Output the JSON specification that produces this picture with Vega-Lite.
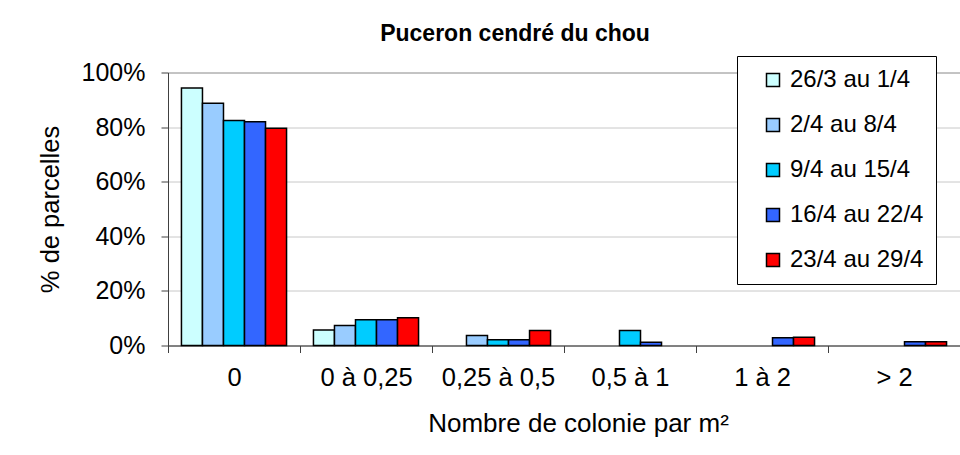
{
  "$schema": "https://vega.github.io/schema/vega-lite/v6.json",
  "autosize": {"type": "none"},
  "width": 792,
  "height": 273,
  "padding": {"left": 168, "top": 72.5, "right": 0, "bottom": 109.5},
  "background": "white",
  "title": {
    "text": "Puceron cendré du chou",
    "font": "Liberation Sans",
    "fontSize": 23,
    "fontWeight": "bold",
    "color": "black",
    "anchor": "middle",
    "baseline": "alphabetic",
    "dx": -49,
    "dy": 39,
    "offset": 31
  },
  "data": {
    "values": [
      {"cat": "0", "periode": "26/3 au 1/4", "pct": 94.3},
      {"cat": "0", "periode": "2/4 au 8/4", "pct": 88.7},
      {"cat": "0", "periode": "9/4 au 15/4", "pct": 82.4},
      {"cat": "0", "periode": "16/4 au 22/4", "pct": 82.0},
      {"cat": "0", "periode": "23/4 au 29/4", "pct": 79.6},
      {"cat": "0 à 0,25", "periode": "26/3 au 1/4", "pct": 5.7},
      {"cat": "0 à 0,25", "periode": "2/4 au 8/4", "pct": 7.3},
      {"cat": "0 à 0,25", "periode": "9/4 au 15/4", "pct": 9.4},
      {"cat": "0 à 0,25", "periode": "16/4 au 22/4", "pct": 9.4},
      {"cat": "0 à 0,25", "periode": "23/4 au 29/4", "pct": 10.2},
      {"cat": "0,25 à 0,5", "periode": "26/3 au 1/4", "pct": 0},
      {"cat": "0,25 à 0,5", "periode": "2/4 au 8/4", "pct": 3.7},
      {"cat": "0,25 à 0,5", "periode": "9/4 au 15/4", "pct": 2.1},
      {"cat": "0,25 à 0,5", "periode": "16/4 au 22/4", "pct": 2.1},
      {"cat": "0,25 à 0,5", "periode": "23/4 au 29/4", "pct": 5.5},
      {"cat": "0,5 à 1", "periode": "26/3 au 1/4", "pct": 0},
      {"cat": "0,5 à 1", "periode": "2/4 au 8/4", "pct": 0},
      {"cat": "0,5 à 1", "periode": "9/4 au 15/4", "pct": 5.5},
      {"cat": "0,5 à 1", "periode": "16/4 au 22/4", "pct": 1.2},
      {"cat": "0,5 à 1", "periode": "23/4 au 29/4", "pct": 0},
      {"cat": "1 à 2", "periode": "26/3 au 1/4", "pct": 0},
      {"cat": "1 à 2", "periode": "2/4 au 8/4", "pct": 0},
      {"cat": "1 à 2", "periode": "9/4 au 15/4", "pct": 0},
      {"cat": "1 à 2", "periode": "16/4 au 22/4", "pct": 2.8},
      {"cat": "1 à 2", "periode": "23/4 au 29/4", "pct": 3.0},
      {"cat": "> 2", "periode": "26/3 au 1/4", "pct": 0},
      {"cat": "> 2", "periode": "2/4 au 8/4", "pct": 0},
      {"cat": "> 2", "periode": "9/4 au 15/4", "pct": 0},
      {"cat": "> 2", "periode": "16/4 au 22/4", "pct": 1.4},
      {"cat": "> 2", "periode": "23/4 au 29/4", "pct": 1.4}
    ]
  },
  "transform": [{"filter": "datum.pct > 0"}],
  "mark": {"type": "bar", "stroke": "black", "strokeWidth": 1.5, "cornerRadius": 0},
  "encoding": {
    "x": {
      "field": "cat",
      "type": "nominal",
      "sort": ["0", "0 à 0,25", "0,25 à 0,5", "0,5 à 1", "1 à 2", "> 2"],
      "scale": {"domain": ["0", "0 à 0,25", "0,25 à 0,5", "0,5 à 1", "1 à 2", "> 2"], "paddingInner": 0, "paddingOuter": 0},
      "axis": {
        "title": "Nombre de colonie par m²",
        "titleFont": "Liberation Sans",
        "titleFontSize": 26,
        "titleFontWeight": "normal",
        "titleColor": "black",
        "titleBaseline": "alphabetic",
        "titleX": 410,
        "titleY": 86,
        "labelFont": "Liberation Sans",
        "labelFontSize": 25.5,
        "labelColor": "black",
        "labelAngle": 0,
        "labelPadding": 13,
        "labelBaseline": "top",
        "tickBand": "extent",
        "tickSize": 7,
        "tickColor": "#404040",
        "domainColor": "#404040",
        "grid": false
      }
    },
    "xOffset": {
      "field": "periode",
      "type": "nominal",
      "scale": {"domain": ["26/3 au 1/4", "2/4 au 8/4", "9/4 au 15/4", "16/4 au 22/4", "23/4 au 29/4"], "paddingInner": 0, "paddingOuter": 0.64}
    },
    "y": {
      "field": "pct",
      "type": "quantitative",
      "scale": {"domain": [0, 100], "nice": false},
      "axis": {
        "title": "% de parcelles",
        "titleFont": "Liberation Sans",
        "titleFontSize": 25.5,
        "titleFontWeight": "normal",
        "titleColor": "black",
        "titlePadding": 18,
        "values": [0, 20, 40, 60, 80, 100],
        "labelExpr": "datum.value + '%'",
        "labelFont": "Liberation Sans",
        "labelFontSize": 25,
        "labelColor": "black",
        "labelPadding": 16,
        "tickSize": 7,
        "tickColor": "#404040",
        "domainColor": "#404040",
        "gridColor": "#c8c8c8",
        "gridWidth": 1
      }
    },
    "color": {
      "field": "periode",
      "type": "nominal",
      "scale": {
        "domain": ["26/3 au 1/4", "2/4 au 8/4", "9/4 au 15/4", "16/4 au 22/4", "23/4 au 29/4"],
        "range": ["#CCFFFF", "#99CCFF", "#00CCFF", "#3366FF", "#FF0000"]
      },
      "legend": {
        "title": null,
        "orient": "none",
        "legendX": 569,
        "legendY": -16.5,
        "padding": 12,
        "strokeColor": "black",
        "fillColor": "white",
        "symbolType": "square",
        "symbolSize": 169,
        "symbolStrokeColor": "black",
        "symbolStrokeWidth": 1.5,
        "symbolOpacity": 1,
        "symbolOffset": 12,
        "labelOffset": 5,
        "labelFont": "Liberation Sans",
        "labelFontSize": 24,
        "labelColor": "black",
        "labelLimit": 300,
        "rowPadding": 21
      }
    }
  },
  "config": {
    "view": {"stroke": "#808080", "strokeWidth": 1}
  }
}
